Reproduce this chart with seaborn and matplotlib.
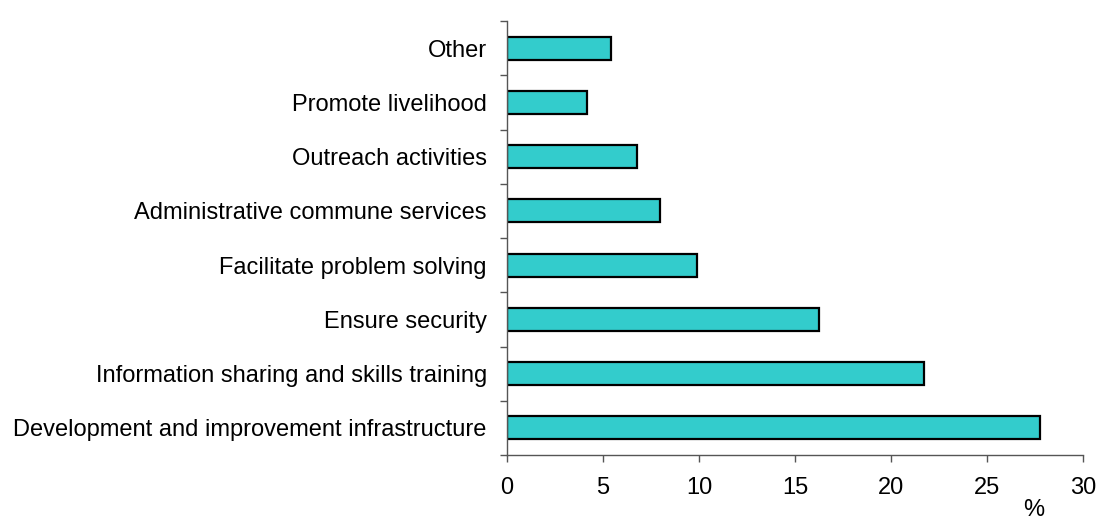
import matplotlib
matplotlib.use("Agg")
import matplotlib.pyplot as plt
import seaborn as sns
import pandas as pd
import numpy as np

categories = [
    "Other",
    "Promote livelihood",
    "Outreach activities",
    "Administrative commune services",
    "Facilitate problem solving",
    "Ensure security",
    "Information sharing and skills training",
    "Development and improvement infrastructure",
]
values = [5.43, 4.17, 6.79, 7.97, 9.91, 16.25, 21.72, 27.76]
x_ticks = [0, 5, 10, 15, 20, 25, 30]

df = pd.DataFrame({"category": categories, "percent": values})

sns.set_style("white")
plt.rcParams["font.family"] = ["Liberation Sans", "DejaVu Sans"]
plt.rcParams["text.color"] = "black"
plt.rcParams["xtick.labelcolor"] = "black"
plt.rcParams["ytick.labelcolor"] = "black"

W, H = 1099, 519
fig = plt.figure(figsize=(W / 100, H / 100), dpi=100)
ax = fig.add_axes([507 / W, 1 - 455 / H, (1083 - 507) / W, (455 - 21) / H])

sns.barplot(
    data=df, x="percent", y="category", orient="h", order=categories,
    color="#33CCCC", edgecolor="black", linewidth=1.6, width=0.42,
    saturation=1, ax=ax,
)

ax.set_xlim(0, 30)
ax.set_ylim(len(categories) - 0.5, -0.5)
ax.set_xticks(x_ticks)
ax.set_xticklabels([str(t) for t in x_ticks])
ax.set_xlabel("")
ax.set_ylabel("")

# category labels centred on bars, tick marks on category boundaries
ax.set_yticks(np.arange(len(categories)))
ax.set_yticks(np.arange(len(categories) + 1) - 0.5, minor=True)
ax.tick_params(axis="y", which="major", length=0, pad=14.5, labelsize=17,
               labelcolor="black")
ax.tick_params(axis="y", which="minor", length=5, width=1, color="#555555",
               direction="out", left=True)
ax.tick_params(axis="x", which="major", length=5, width=1, color="#555555",
               direction="out", bottom=True, pad=11, labelsize=17,
               labelcolor="black")

for side in ["top", "right"]:
    ax.spines[side].set_visible(False)
for side in ["left", "bottom"]:
    ax.spines[side].set_color("#555555")
    ax.spines[side].set_linewidth(1)

fig.text(1034 / W, 1 - 521 / H, "%", ha="center", va="bottom", fontsize=17,
         color="black")

fig.savefig("out.png", dpi=100)
